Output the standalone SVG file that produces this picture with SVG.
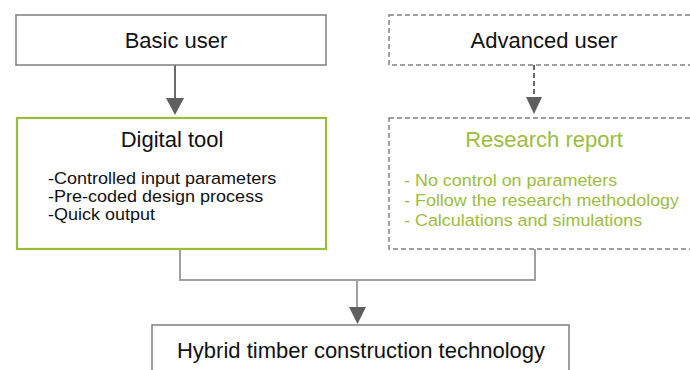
<svg xmlns="http://www.w3.org/2000/svg" width="690" height="370" viewBox="0 0 690 370">
<defs>
<style>
.box{fill:#fff;stroke:#7f7f7f;stroke-width:1.5}
.dash{fill:#fff;stroke:#808080;stroke-width:1.5;stroke-dasharray:5 3}
.green{fill:#fff;stroke:#9bbb3a;stroke-width:2.2}
.t{font-family:"Liberation Sans",Arial,sans-serif;font-size:22px;fill:#111;text-anchor:middle}
.l{font-family:"Liberation Sans",Arial,sans-serif;font-size:17px;fill:#111}
.g{fill:#9dbd3e}
.c{fill:none;stroke:#6a6a6a;stroke-width:2}
.cl{fill:none;stroke:#a0a0a0;stroke-width:2}
.head{fill:#5f5f5f}
</style>
</defs>
<g id="connectors">
<path class="c" d="M175,65 V99"/>
<path class="head" d="M166,98 L184,98 L175,115 Z"/>
<path class="c" d="M534,65 V99" stroke-dasharray="5 3"/>
<path class="head" d="M526,97 L542,97 L534,114 Z"/>
<path class="cl" d="M180,249 V280 H535 V249 M357,280 V308"/>
<path class="head" d="M349,307 L366,307 L357.5,324 Z"/>
</g>
<g id="basic-user">
<rect class="box" x="16" y="15" width="310" height="50"/>
<text class="t" x="176" y="48">Basic user</text>
</g>
<g id="advanced-user">
<rect class="dash" x="389" y="15" width="303" height="50"/>
<text class="t" x="544" y="48">Advanced user</text>
</g>
<g id="digital-tool">
<rect class="green" x="17" y="118" width="309" height="131"/>
<text class="t" x="172" y="147">Digital tool</text>
<g transform="translate(48,0) scale(1.06,1)">
<text class="l" x="0" y="184">-Controlled input parameters</text>
<text class="l" x="0" y="202">-Pre-coded design process</text>
<text class="l" x="0" y="220">-Quick output</text>
</g>
</g>
<g id="research-report">
<rect class="dash" x="389" y="118" width="303" height="131"/>
<text class="t g" x="544" y="147">Research report</text>
<g transform="translate(404,0) scale(1.055,1)">
<text class="l g" x="0" y="186">- No control on parameters</text>
<text class="l g" x="0" y="206">- Follow the research methodology</text>
<text class="l g" x="0" y="226">- Calculations and simulations</text>
</g>
</g>
<g id="hybrid">
<rect class="box" x="152" y="325" width="417" height="60"/>
<text class="t" x="361" y="358">Hybrid timber construction technology</text>
</g>
</svg>
